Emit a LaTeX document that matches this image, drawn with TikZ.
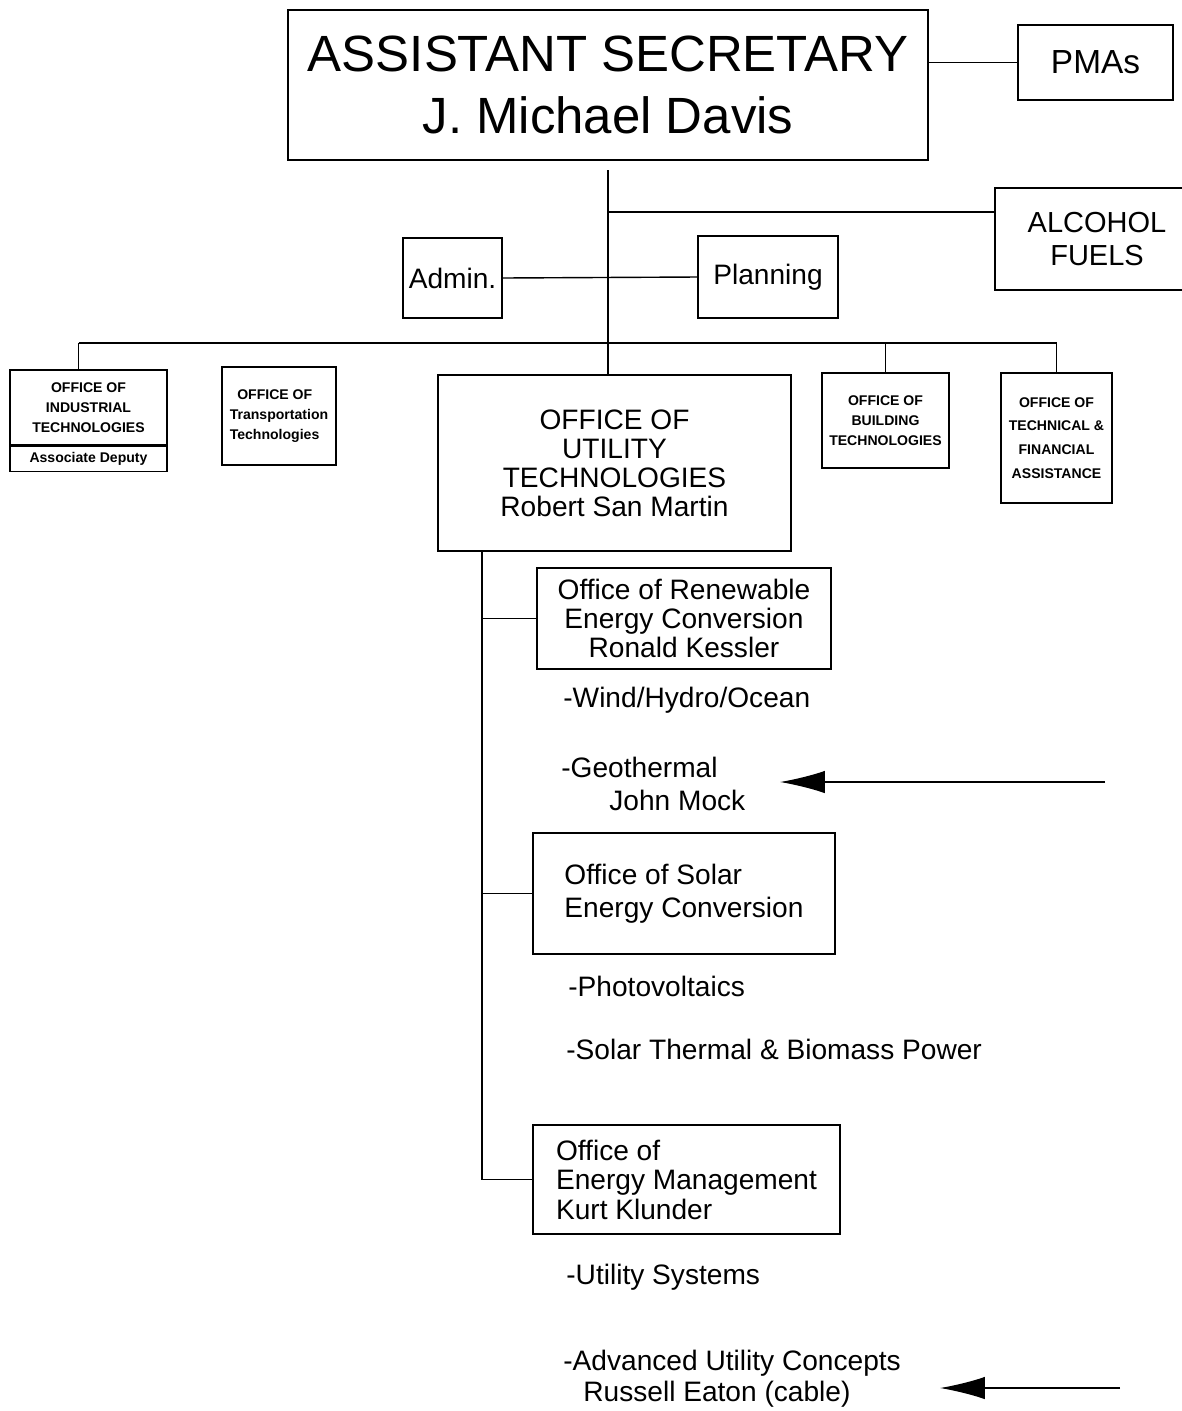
\documentclass[tikz,border=0pt]{standalone}
\usepackage{fontspec}
\setmainfont{Liberation Sans}
\usetikzlibrary{arrows.meta,positioning}

\begin{document}
\begin{tikzpicture}[x=0.02cm,y=-0.02cm]
\tikzset{box/.style={draw,line width=0.8pt,inner sep=0pt,align=center},
  big/.style={font=\fontsize{16}{17}\selectfont},
  tiny/.style={font=\fontsize{8}{11.5}\selectfont\bfseries},
  item/.style={anchor=west,inner sep=0pt,font=\fontsize{16}{17}\selectfont},
  wire/.style={line width=0.8pt},
  pointer/.style={line width=0.8pt,-{Latex[length=0.9cm,width=0.45cm]}}}
\useasboundingbox (0,0) rectangle (1181,1411);
% top level
\node [box,minimum width=12.8cm,minimum height=3cm,font=\fontsize{29}{35}\selectfont] (sec) at (608,85) {ASSISTANT SECRETARY\\J. Michael Davis};
\node [box,minimum width=3.1cm,minimum height=1.5cm,font=\fontsize{19}{20}\selectfont] (pma) at (1095.5,62.5) {PMAs};
\node [box,minimum width=4.08cm,minimum height=2.04cm,font=\fontsize{16.5}{18.5}\selectfont] (alc) at (1097,239) {ALCOHOL\\FUELS};
\node [box,big,minimum width=1.98cm,minimum height=1.6cm] (admin) at (452.5,278) {Admin.};
\node [box,big,minimum width=2.8cm,minimum height=1.64cm] (plan) at (768,277) {Planning};
% offices
\node [box,tiny,minimum width=3.14cm,minimum height=1.5cm] (ind) at (88.5,407.5) {OFFICE OF\\INDUSTRIAL\\TECHNOLOGIES};
\node [box,tiny,minimum width=3.14cm,minimum height=0.5cm,below=0pt of ind] (inddep) {Associate Deputy};
\node [box,tiny,align=left,minimum width=2.28cm,minimum height=1.96cm] (trans) at (279,416) {\hspace{0.15cm}OFFICE OF\\Transportation\\Technologies};
\node [box,big,minimum width=7.06cm,minimum height=3.52cm,font=\fontsize{16}{16.5}\selectfont] (util) at (614.5,463) {OFFICE OF\\UTILITY\\TECHNOLOGIES\\Robert San Martin};
\node [box,tiny,minimum width=2.54cm,minimum height=1.9cm] (bldg) at (885.5,420.5) {OFFICE OF\\BUILDING\\TECHNOLOGIES};
\node [box,tiny,minimum width=2.22cm,minimum height=2.6cm,font=\fontsize{8}{13.5}\selectfont\bfseries] (tech) at (1056.5,438) {OFFICE OF\\TECHNICAL \&\\FINANCIAL\\ASSISTANCE};
% utility branch
\node [box,minimum width=5.88cm,minimum height=2.02cm,font=\fontsize{16}{16.5}\selectfont] (ren) at (684,618.5) {Office of Renewable\\Energy Conversion\\Ronald Kessler};
\node [box,align=left,minimum width=6.04cm,minimum height=2.42cm,font=\fontsize{16}{18.5}\selectfont] (sol) at (684,893.5) {Office of Solar\\Energy Conversion};
\node [box,align=left,minimum width=6.14cm,minimum height=2.18cm,font=\fontsize{16}{16.8}\selectfont] (emg) at (686.5,1179.5) {Office of\\Energy Management\\Kurt Klunder};
\node [item] (wind) at (563,700) {-Wind/Hydro/Ocean};
\node [item] (geo) at (561,767) {-Geothermal};
\node [item] (mock) at (609,800) {John Mock};
\node [item] (pv) at (568,986) {-Photovoltaics};
\node [item] (sth) at (566,1049) {-Solar Thermal \& Biomass Power};
\node [item] (usys) at (566,1277) {-Utility Systems};
\node [item] (adv) at (563,1363) {-Advanced Utility Concepts};
\node [item] (eaton) at (583,1394) {Russell Eaton (cable)};
% connectors
\coordinate (top) at (608,170);
\coordinate (alcin) at (995,212);
\coordinate (bus) at (608,343);
\coordinate (ub) at (482,551);
\draw [wire] (pma.west -| sec.east) -- (pma.west);
\draw [wire] (top) -- (top |- util.north);
\draw [wire] (top |- alcin) -- (alcin);
\draw [wire] (admin.east) -- (plan.west);
\draw [wire] ([xshift=-0.2cm]ind.north |- bus) -- (tech.north |- bus);
\draw [wire] ([xshift=-0.2cm]ind.north |- bus) -- ([xshift=-0.2cm]ind.north);
\draw [wire] (bldg.north |- bus) -- (bldg.north);
\draw [wire] (tech.north |- bus) -- (tech.north);
\draw [wire] (ub) -- (ub |- emg.west) -- (emg.west);
\draw [wire] (ub |- ren.west) -- (ren.west);
\draw [wire] (ub |- sol.west) -- (sol.west);
% arrows
\coordinate (geotail) at (1105,782);
\coordinate (geotip) at (780,782);
\coordinate (eatontail) at (1120,1388);
\coordinate (eatontip) at (940,1388);
\draw [pointer] (geotail) -- (geotip);
\draw [pointer] (eatontail) -- (eatontip);
\end{tikzpicture}
\end{document}
